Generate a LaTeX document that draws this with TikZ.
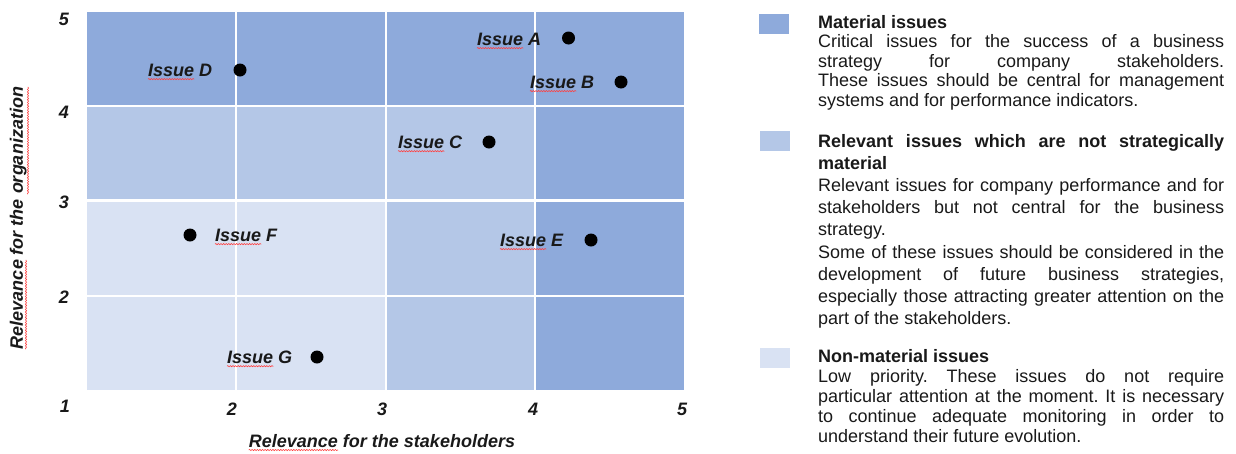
\documentclass[tikz,border=0pt]{standalone}
\usepackage{fontspec}
\setmainfont{Liberation Sans}
\usetikzlibrary{decorations.pathmorphing}
\definecolor{matdark}{HTML}{8EAADB}
\definecolor{matmid}{HTML}{B4C7E7}
\definecolor{matlight}{HTML}{D9E2F3}
\tolerance=10000
\hbadness=10000
\hyphenpenalty=10000
\frenchspacing
\begin{document}
\begin{tikzpicture}[x=1pt,y=-1pt,
  lbl/.style={font=\fontsize{18}{20}\selectfont\bfseries\itshape, inner sep=0pt, text=black!90},
  dotmark/.style={circle, fill=black, inner sep=0pt, minimum size=13pt},
  squig/.style={red!75, line width=0.6pt, decorate, decoration={snake, amplitude=0.6pt, segment length=2.6pt}},
  gridline/.style={white, line width=2.5pt},
  legsq/.style={minimum width=30pt, minimum height=20pt, inner sep=0pt},
  legtext/.style={inner sep=0pt, text width=406pt, align=justify, anchor=base west, text=black!90},
]
\useasboundingbox (0,0) rectangle (1236,453);
% cells
\fill[matdark] (87,12) rectangle (684,106);
\fill[matmid] (87,106) rectangle (535,200.5);
\fill[matdark] (535,106) rectangle (684,389.5);
\fill[matmid] (386,200.5) rectangle (535,389.5);
\fill[matlight] (87,200.5) rectangle (386,389.5);
% grid lines
\foreach \x in {236,386,535} \draw[gridline] (\x,12) -- (\x,389.5);
\foreach \y in {106,200.5,296} \draw[gridline] (87,\y) -- (684,\y);
% tick labels
\node[lbl] (y5) at (64,19) {5};
\node[lbl] (y4) at (64,112) {4};
\node[lbl] (y3) at (64,202) {3};
\node[lbl] (y2) at (64,297) {2};
\node[lbl] (y1) at (65,406) {1};
\node[lbl] (x2) at (232,409) {2};
\node[lbl] (x3) at (382,409) {3};
\node[lbl] (x4) at (533,409) {4};
\node[lbl] (x5) at (682,409) {5};
% issues
\foreach \n/\tx/\ty/\dx/\dy in {A/477/39/568.5/38, B/530/82/621/82, C/398/142/489/142, D/148/70/240/70, E/500/240/591/240, F/215/235/190/235, G/227/357/317/357}{
  \node[lbl, anchor=west] (l\n) at (\tx,\ty) {Issue \n};
  \node[dotmark] (d\n) at (\dx,\dy) {};
  \node[lbl, anchor=base west] (p\n) at (l\n.base west) {\phantom{Issue}};
  \draw[squig] ([yshift=-3pt]p\n.base west) -- ([yshift=-3pt]p\n.base east);
}
% axis titles
\node[lbl, anchor=base] (xlab) at (382,447) {Relevance for the stakeholders};
\node[lbl, anchor=base west] (pxr) at (xlab.base west) {\phantom{Relevance}};
\draw[squig] ([yshift=-3pt]pxr.base west) -- ([yshift=-3pt]pxr.base east);
\node[lbl, rotate=90, anchor=base] (ylab) at (23,218) {Relevance for the organization};
\node[lbl, rotate=90, anchor=base west] (pyr) at (ylab.base west) {\phantom{Relevance}};
\node[lbl, rotate=90, anchor=base east] (pyo) at (ylab.base east) {\phantom{organization}};
\draw[squig] ([xshift=3pt]pyr.base west) -- ([xshift=3pt]pyr.base east);
\draw[squig] ([xshift=5pt]pyo.base west) -- ([xshift=5pt]pyo.base east);
% legend
\node[legsq, fill=matdark] (k1) at (774,24) {};
\node[legsq, fill=matmid] (k2) at (775,141) {};
\node[legsq, fill=matlight] (k3) at (775,358) {};
\node[legtext, font=\fontsize{18}{19.6}\selectfont] (t1) at (818,28) {\textbf{Material issues}\par
Critical issues for the success of a business\linebreak
strategy for company stakeholders.\linebreak
These issues should be central for management\linebreak
systems and for performance indicators.};
\node[legtext, font=\fontsize{18}{22.2}\selectfont] (t2) at (818,147) {\textbf{Relevant issues which are not strategically\linebreak
material}\par
Relevant issues for company performance and for\linebreak
stakeholders but not central for the business\linebreak
strategy.\par
Some of these issues should be considered in the\linebreak
development of future business strategies,\linebreak
especially those attracting greater attention on the\linebreak
part of the stakeholders.};
\node[legtext, font=\fontsize{18}{20}\selectfont] (t3) at (818,362.5) {\textbf{Non-material issues}\par
Low priority. These issues do not require\linebreak
particular attention at the moment. It is necessary\linebreak
to continue adequate monitoring in order to\linebreak
understand their future evolution.};
\end{tikzpicture}
\end{document}
